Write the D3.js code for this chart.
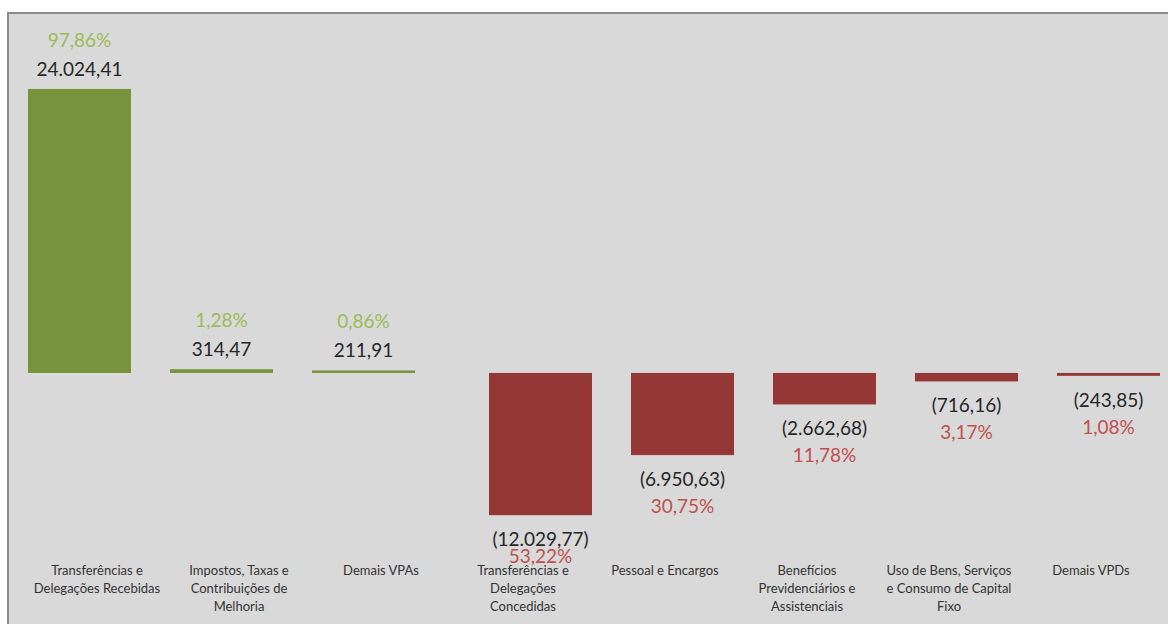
<!DOCTYPE html>
<html>
<head>
<meta charset="utf-8">
<script src="https://cdn.jsdelivr.net/npm/d3@7/dist/d3.min.js"></script>
<style>
  html, body { margin: 0; padding: 0; background: #ffffff; }
  svg { display: block; }
  text { font-family: Lato, "Open Sans", sans-serif; }
</style>
</head>
<body>
<svg id="chart" width="1168" height="624"></svg>
<script>
// Variações patrimoniais: aumentativas (VPA) e diminutivas (VPD)
const categories = [
  "Transferências e\nDelegações Recebidas",
  "Impostos, Taxas e\nContribuições de\nMelhoria",
  "Demais VPAs",
  "Transferências e\nDelegações\nConcedidas",
  "Pessoal e Encargos",
  "Benefícios\nPrevidenciários e\nAssistenciais",
  "Uso de Bens, Serviços\ne Consumo de Capital\nFixo",
  "Demais VPDs"
];
const seriesNames = ["VPA", "VPD"];
const vpaValues = [24024.41, 314.47, 211.91, null, null, null, null, null];
const vpdValues = [null, null, null, -12029.77, -6950.63, -2662.68, -716.16, -243.85];
const percentLabels = ["97,86%", "1,28%", "0,86%", "53,22%", "30,75%", "11,78%", "3,17%", "1,08%"];

const colors = {
  VPA: { bar: "#77933c", pct: "#9bbb59" },
  VPD: { bar: "#953735", pct: "#c0504d" }
};

const svg = d3.select("#chart");
const W = 1168, H = 624;

// chart frame
svg.append("rect").attr("x", 8).attr("y", 13).attr("width", W).attr("height", H)
  .attr("fill", "#d9d9d9").attr("stroke", "#8c8c8c").attr("stroke-width", 2);

const x = d3.scaleBand().domain(categories).range([26, 1162]).paddingInner(0).paddingOuter(0);
const offset = d3.scalePoint().domain(seriesNames).range([-17.5, 17.5]);
const barW = 103;
const y = d3.scaleLinear().domain([-21000, 26000]).range([621.2, 65.6]);

const locale = d3.formatLocale({ decimal: ",", thousands: ".", grouping: [3], currency: ["R$", ""] });
const fmt = locale.format(",.2f");
const fmtValue = v => v < 0 ? "(" + fmt(-v) + ")" : fmt(v);

const rows = [];
categories.forEach((c, i) => {
  if (vpaValues[i] != null) rows.push({ cat: c, series: "VPA", value: vpaValues[i], pct: percentLabels[i] });
  if (vpdValues[i] != null) rows.push({ cat: c, series: "VPD", value: vpdValues[i], pct: percentLabels[i] });
});

const center = d => x(d.cat) + x.bandwidth() / 2 + offset(d.series);

svg.append("g").selectAll("rect").data(rows).join("rect")
  .attr("x", d => center(d) - barW / 2)
  .attr("width", barW)
  .attr("y", d => Math.min(y(d.value), y(0)))
  .attr("height", d => Math.abs(y(d.value) - y(0)))
  .attr("fill", d => colors[d.series].bar);

const labelFloor = 563;
const labels = svg.append("g");
rows.forEach(d => {
  const cx = center(d);
  let vY, pY;
  if (d.value >= 0) {
    vY = y(d.value) - 13;
    pY = vY - 29;
  } else {
    vY = y(d.value) + 31;
    pY = Math.min(vY + 27, labelFloor);
  }
  labels.append("text").attr("x", cx).attr("y", vY).attr("text-anchor", "middle")
    .attr("font-size", 19).attr("fill", "#262626").text(fmtValue(d.value));
  labels.append("text").attr("x", cx).attr("y", pY).attr("text-anchor", "middle")
    .attr("font-size", 19).attr("fill", colors[d.series].pct).text(d.pct);
});

// category labels
const catG = svg.append("g");
categories.forEach(c => {
  const t = catG.append("text").attr("text-anchor", "middle")
    .attr("font-size", 13).attr("fill", "#333333");
  c.split("\n").forEach((line, k) => {
    t.append("tspan").attr("x", x(c) + x.bandwidth() / 2).attr("y", 575 + k * 18).text(line);
  });
});
</script>
</body>
</html>
